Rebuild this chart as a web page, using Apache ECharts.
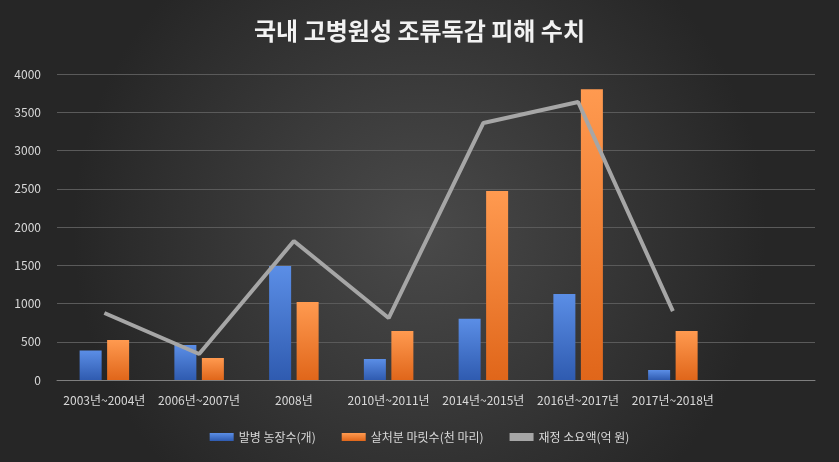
<!DOCTYPE html>
<html>
<head>
<meta charset="utf-8">
<script src="https://cdn.jsdelivr.net/npm/echarts@6/dist/echarts.min.js"></script>
<style>
html,body{margin:0;padding:0;background:#fff}
#main{width:839px;height:462px}
</style>
</head>
<body>
<div id="main"></div>
<script>
var categories = ['2003년~2004년', '2006년~2007년', '2008년', '2010년~2011년', '2014년~2015년', '2016년~2017년', '2017년~2018년', ''];
var farms = [385, 458, 1490, 275, 800, 1124, 130, null];
var culled = [523, 288, 1020, 640, 2470, 3800, 640, null];
var cost = [876, 340, 1817, 810, 3360, 3634, 900, null];

var chart = echarts.init(document.getElementById('main'));
var font = "'Noto Sans CJK KR', sans-serif";

function grad(top, bottom) {
    return new echarts.graphic.LinearGradient(0, 0, 0, 1, [
        {offset: 0, color: top}, {offset: 1, color: bottom}
    ]);
}

chart.setOption({
    backgroundColor: new echarts.graphic.RadialGradient(0.5, 0.5, 0.75, [
        {offset: 0, color: '#4a4a4a'}, {offset: 1, color: '#262626'}
    ]),
    textStyle: {fontFamily: font},
    title: {
        text: '국내 고병원성 조류독감 피해 수치',
        left: 'center',
        top: 14,
        textStyle: {color: '#f2f2f2', fontSize: 24, fontWeight: 'bold', fontFamily: font}
    },
    legend: {
        bottom: 14,
        itemWidth: 24,
        itemHeight: 8,
        itemGap: 26,
        textStyle: {color: '#d9d9d9', fontSize: 12},
        data: [
            {name: '발병 농장수(개)', icon: 'rect'},
            {name: '살처분 마릿수(천 마리)', icon: 'rect'},
            {name: '재정 소요액(억 원)', icon: 'rect'}
        ]
    },
    grid: {left: 57, right: 24, top: 74, bottom: 82},
    xAxis: {
        type: 'category',
        data: categories,
        axisTick: {show: false},
        axisLine: {lineStyle: {color: '#7f7f7f'}},
        axisLabel: {color: '#d9d9d9', fontSize: 12, interval: 0, margin: 14}
    },
    yAxis: {
        type: 'value',
        min: 0,
        max: 4000,
        interval: 500,
        axisLabel: {color: '#d9d9d9', fontSize: 12, margin: 16, formatter: function (v) { return String(v); }},
        splitLine: {lineStyle: {color: '#5a5a5a'}}
    },
    series: [
        {
            name: '발병 농장수(개)',
            type: 'bar',
            data: farms,
            barWidth: 22,
            barGap: '25%',
            itemStyle: {color: grad('#5b8ee6', '#2f5bb0')}
        },
        {
            name: '살처분 마릿수(천 마리)',
            type: 'bar',
            data: culled,
            barWidth: 22,
            itemStyle: {color: grad('#ff9a50', '#e0661a')}
        },
        {
            name: '재정 소요액(억 원)',
            type: 'line',
            data: cost,
            symbol: 'none',
            lineStyle: {color: '#a6a6a6', width: 4},
            itemStyle: {color: '#a6a6a6'}
        }
    ]
});
</script>
</body>
</html>
